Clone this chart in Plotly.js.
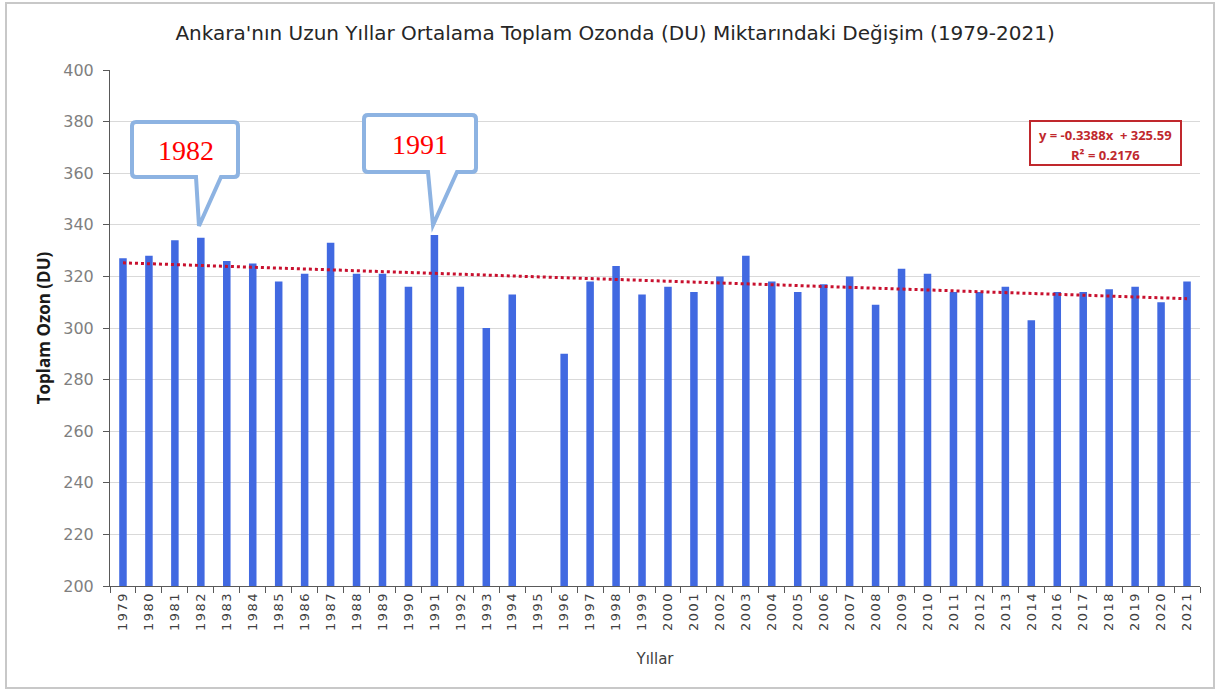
<!DOCTYPE html>
<html>
<head>
<meta charset="utf-8">
<script src="https://cdn.plot.ly/plotly-3.0.1.min.js"></script>
<style>
  html, body { margin: 0; padding: 0; background: #ffffff; }
  #chart { width: 1218px; height: 692px; }
  #chart .xtick text { letter-spacing: 1.4px; }
</style>
</head>
<body>
<div id="chart"></div>
<script>
// ---- data ----
const years = ["1979","1980","1981","1982","1983","1984","1985","1986","1987","1988",
  "1989","1990","1991","1992","1993","1994","1995","1996","1997","1998",
  "1999","2000","2001","2002","2003","2004","2005","2006","2007","2008",
  "2009","2010","2011","2012","2013","2014","2016","2017","2018","2019",
  "2020","2021"];
const ozone = [327, 328, 334, 335, 326, 325, 318, 321, 333, 321,
  321, 316, 336, 316, 300, 313, null, 290, 318, 324,
  313, 316, 314, 320, 328, 318, 314, 317, 320, 309,
  323, 321, 314, 314, 316, 303, 314, 314, 315, 316,
  310, 318];
const trendSlope = -0.3388;
const trendIntercept = 325.59;
const trendLabel = "y = -0.3388x  + 325.59";
const r2Label = "R\u00B2 = 0.2176";
const calloutLabels = ["1982", "1991"];

const chartTitle = "Ankara'nın Uzun Yıllar Ortalama Toplam Ozonda (DU) Miktarındaki Değişim (1979-2021)";
const yTitle = "Toplam Ozon (DU)";
const xTitle = "Yıllar";

// trend line from the displayed equation (x = 1..n)
const trendY = years.map((_, i) => trendSlope * (i + 1) + trendIntercept);

// ---- geometry helpers (pixel -> paper) ----
const W = 1218, H = 692;
const M = {l: 110, r: 18, t: 70, b: 106};
const PW = W - M.l - M.r, PH = H - M.t - M.b;
const px = x => (x - M.l) / PW;
const py = y => (H - M.b - y) / PH;

function calloutPath(x0, y0, x1, y1, pL, pR, tipX, tipY, r) {
  const P = (x, y) => px(x).toFixed(5) + "," + py(y).toFixed(5);
  return "M" + P(x0 + r, y0) +
    " L" + P(x1 - r, y0) + " Q" + P(x1, y0) + " " + P(x1, y0 + r) +
    " L" + P(x1, y1 - r) + " Q" + P(x1, y1) + " " + P(x1 - r, y1) +
    " L" + P(pR, y1) + " L" + P(tipX, tipY) + " L" + P(pL, y1) +
    " L" + P(x0 + r, y1) + " Q" + P(x0, y1) + " " + P(x0, y1 - r) +
    " L" + P(x0, y0 + r) + " Q" + P(x0, y0) + " " + P(x0 + r, y0) + " Z";
}

const calloutColor = "#8DB3E2";
const shapes = [
  {type: "rect", xref: "paper", yref: "paper", x0: px(6), x1: px(1214), y0: py(3), y1: py(688),
   line: {color: "#C8C8C8", width: 2}, fillcolor: "rgba(0,0,0,0)", layer: "below"},
  {type: "path", xref: "paper", yref: "paper",
   path: calloutPath(132, 122, 238, 177, 196, 221, 199, 226, 4),
   line: {color: calloutColor, width: 4}, fillcolor: "#ffffff"},
  {type: "path", xref: "paper", yref: "paper",
   path: calloutPath(364, 115, 476, 172, 428, 457, 433, 225, 4),
   line: {color: calloutColor, width: 4}, fillcolor: "#ffffff"},
  {type: "rect", xref: "paper", yref: "paper", x0: px(1030), x1: px(1181), y0: py(121), y1: py(165),
   line: {color: "#C0282D", width: 2}, fillcolor: "#ffffff"}
];

const ann = (x, y, text, font) => ({xref: "paper", yref: "paper", x: px(x), y: py(y), text: text,
  showarrow: false, xanchor: "center", yanchor: "middle", font: font});
const serifFont = {family: "Liberation Serif, Times New Roman, serif", size: 28, color: "#FF0000"};
const eqFont = {family: "Open Sans, sans-serif", size: 13, color: "#C0282D"};
const annotations = [
  ann(186, 151, calloutLabels[0], serifFont),
  ann(420, 144, calloutLabels[1], serifFont),
  ann(1105, 135, "<b>" + trendLabel + "</b>", eqFont),
  ann(1105, 155, "<b>" + r2Label + "</b>", eqFont)
];

const traces = [
  {type: "bar", x: years, y: ozone, marker: {color: "#4169E1"}, hoverinfo: "x+y", showlegend: false},
  {type: "scatter", mode: "lines", x: years, y: trendY,
   line: {color: "#C8102E", width: 3, dash: "dot"}, hoverinfo: "skip", showlegend: false}
];

const layout = {
  width: W, height: H,
  margin: M,
  paper_bgcolor: "#ffffff", plot_bgcolor: "#ffffff",
  bargap: 0.71,
  title: {text: chartTitle, x: 0.505, xanchor: "center", y: 0.952, yanchor: "middle",
          font: {family: "DejaVu Sans, sans-serif", size: 20, color: "#262626"}},
  xaxis: {
    type: "category", tickangle: -90,
    tickfont: {family: "DejaVu Sans, sans-serif", size: 13, color: "#404040"},
    ticks: "outside", tickson: "boundaries", ticklen: 6, tickcolor: "#595959",
    showline: true, linecolor: "#595959", linewidth: 1,
    showgrid: false, zeroline: false,
    title: {text: xTitle, standoff: 29, font: {family: "DejaVu Sans, sans-serif", size: 15, color: "#404040"}}
  },
  yaxis: {
    range: [200, 400], dtick: 20, tick0: 200,
    tickfont: {family: "DejaVu Sans, sans-serif", size: 16, color: "#7F7F7F"},
    ticks: "outside", ticklen: 6, tickcolor: "#595959", ticklabelstandoff: 6,
    showline: true, linecolor: "#595959", linewidth: 1,
    gridcolor: "#D9D9D9", gridwidth: 1, zeroline: false,
    title: {text: "<b>" + yTitle + "</b>", standoff: 8,
            font: {family: "Open Sans, sans-serif", size: 17, color: "#1a1a1a"}}
  },
  shapes: shapes,
  annotations: annotations,
  font: {family: "Open Sans, sans-serif"}
};

Plotly.newPlot("chart", traces, layout, {displayModeBar: false, staticPlot: true});
</script>
</body>
</html>
